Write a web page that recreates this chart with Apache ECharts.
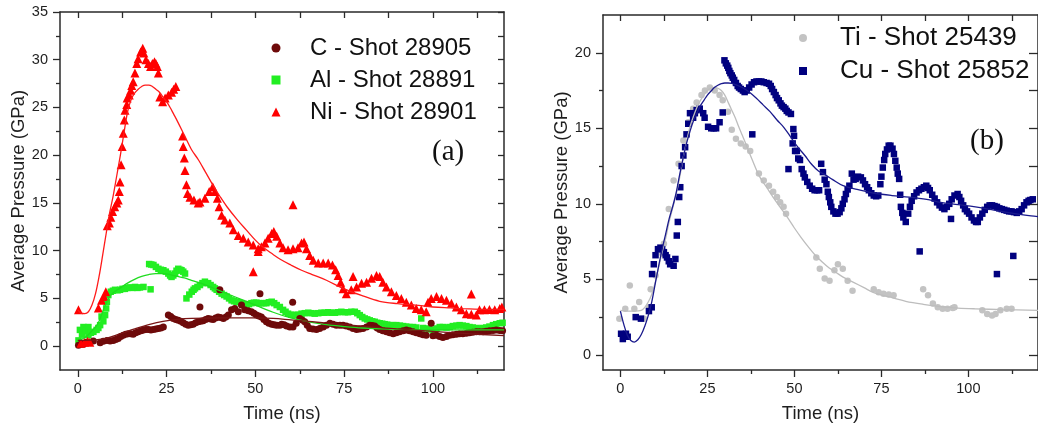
<!DOCTYPE html>
<html><head><meta charset="utf-8">
<script src="https://cdn.jsdelivr.net/npm/echarts@6/dist/echarts.min.js"></script>
<style>html,body{margin:0;padding:0;background:#fff;overflow:hidden}#c{width:1038px;height:432px}</style>
</head><body><div id="c"></div>
<script>
// ---------- Panel (a) ----------
const cName = 'C - Shot 28905';
const alName = 'Al - Shot 28891';
const niName = 'Ni - Shot 28901';
const cData = [[0.2,0.1],[0.9,0.2],[1.6,0.2],[2.5,0.4],[4.4,0.55],[6.3,0.35],[7.2,0.5],[8.2,0.6],[9.1,0.55],[10.0,0.6],[10.7,0.7],[11.4,0.8],[12.1,1.0],[12.8,1.15],[13.5,1.25],[14.2,1.3],[14.9,1.3],[15.6,1.25],[16.3,1.4],[17.0,1.5],[17.8,1.6],[18.5,1.7],[19.2,1.75],[19.9,1.75],[20.6,1.7],[21.3,1.75],[22.0,1.8],[22.7,1.85],[23.4,1.9],[24.1,2.0],[25.5,3.25],[26.2,3.1],[26.9,2.9],[27.6,2.8],[28.3,2.7],[29.0,2.6],[29.7,2.45],[30.4,2.3],[31.1,2.2],[31.8,2.25],[32.5,2.3],[33.2,2.45],[33.9,2.55],[34.6,2.6],[35.3,2.65],[36.0,2.8],[36.7,2.9],[37.4,2.85],[38.1,2.8],[38.8,2.95],[39.5,3.05],[40.2,3.0],[41.0,2.9],[41.7,3.05],[42.4,3.25],[43.3,3.8],[44.2,3.95],[45.2,3.6],[46.1,4.3],[47.0,3.8],[48.0,3.7],[48.9,3.6],[49.6,3.45],[50.3,3.25],[51.0,3.15],[51.7,3.05],[52.4,2.8],[53.1,2.55],[53.8,2.4],[54.6,2.3],[55.3,2.25],[56.0,2.2],[56.9,2.2],[57.4,2.3],[58.1,2.25],[58.8,2.1],[59.7,2.0],[60.6,2.0],[61.5,2.4],[62.5,2.9],[63.2,2.75],[63.9,2.55],[64.6,2.2],[65.3,1.85],[66.2,1.8],[67.2,1.75],[68.1,1.85],[69.1,2.0],[70.0,2.2],[71.0,2.4],[71.9,2.3],[72.8,2.2],[73.8,2.2],[74.7,2.2],[75.6,2.1],[76.6,2.0],[77.5,1.85],[78.5,1.75],[79.4,1.8],[80.3,1.85],[81.3,2.0],[82.2,2.2],[82.9,2.15],[83.6,2.1],[84.3,1.9],[85.0,1.75],[85.9,1.6],[86.9,1.5],[87.8,1.4],[88.8,1.3],[89.7,1.4],[90.6,1.5],[91.6,1.6],[92.5,1.7],[93.4,1.6],[94.4,1.5],[95.3,1.4],[96.3,1.3],[97.2,1.2],[98.1,1.15],[99.5,2.4],[100.0,1.1],[101.0,1.15],[101.9,1.0],[102.8,0.9],[103.8,1.0],[104.7,1.15],[105.6,1.2],[106.6,1.25],[107.5,1.3],[108.4,1.3],[109.4,1.35],[110.3,1.4],[111.2,1.45],[112.2,1.5],[113.1,1.5],[114.1,1.5],[115.0,1.55],[115.9,1.6],[116.9,1.65],[117.8,1.7],[118.8,1.65],[119.6,1.6],[34.4,4.1],[40.0,5.9],[51.3,5.5],[60.5,4.6]];
const alData = [[0.2,0.6],[0.6,1.7],[1.2,1.2],[1.6,2.0],[2.2,1.6],[3.0,1.15],[3.0,2.0],[3.7,1.4],[4.4,1.5],[5.3,1.7],[5.8,1.9],[6.3,2.2],[6.7,3.1],[7.2,2.6],[7.7,3.25],[8.0,3.95],[8.2,4.65],[8.6,5.35],[9.3,5.7],[9.9,5.8],[10.5,5.9],[11.2,5.85],[11.9,5.9],[12.6,6.0],[13.3,6.0],[14.0,6.1],[14.7,6.15],[15.4,6.1],[16.1,6.2],[16.8,6.1],[17.5,6.15],[18.5,6.2],[20.5,5.95],[20.1,8.6],[20.7,8.55],[21.3,8.5],[22.0,8.3],[22.7,8.1],[23.4,8.0],[24.1,7.95],[24.8,7.8],[25.5,7.6],[26.0,7.4],[26.4,7.25],[26.9,7.4],[27.4,7.6],[27.8,7.9],[28.3,8.1],[28.8,8.0],[29.2,7.95],[29.7,7.8],[30.2,7.6],[30.6,5.0],[31.4,5.4],[32.1,5.7],[32.6,5.9],[33.0,6.05],[33.7,6.2],[34.4,6.4],[35.1,6.6],[35.8,6.75],[36.7,6.6],[37.4,6.4],[38.1,6.2],[38.6,6.05],[39.1,5.9],[39.8,5.7],[40.5,5.5],[41.2,5.35],[41.9,5.2],[42.6,5.0],[43.3,4.8],[44.0,4.7],[44.7,4.65],[45.4,4.6],[46.1,4.5],[46.8,4.4],[47.5,4.35],[48.2,4.4],[48.9,4.5],[49.6,4.55],[50.3,4.55],[51.0,4.5],[51.7,4.5],[52.4,4.5],[53.1,4.5],[53.8,4.6],[54.6,4.65],[55.3,4.5],[56.0,4.3],[56.9,4.1],[57.8,3.8],[58.5,3.6],[59.2,3.4],[60.1,3.3],[61.1,3.25],[62.0,3.3],[63.0,3.4],[63.9,3.45],[64.9,3.5],[65.8,3.45],[66.7,3.4],[67.7,3.45],[68.6,3.5],[69.5,3.5],[70.5,3.55],[71.4,3.5],[72.4,3.5],[73.3,3.55],[74.2,3.6],[75.2,3.55],[76.1,3.55],[77.0,3.6],[78.0,3.6],[78.7,3.45],[79.4,3.25],[80.1,3.05],[80.8,2.9],[81.5,2.8],[82.2,2.7],[82.9,2.6],[83.6,2.55],[84.3,2.45],[85.0,2.4],[85.7,2.35],[86.4,2.3],[87.1,2.25],[87.8,2.2],[88.8,2.2],[89.7,2.2],[90.7,2.15],[91.6,2.1],[92.5,2.05],[93.4,2.0],[94.4,2.0],[95.3,1.95],[96.7,2.9],[97.2,1.9],[98.1,1.85],[99.0,1.75],[100.0,1.7],[101.0,1.85],[101.9,2.0],[102.8,2.0],[103.8,1.95],[104.7,2.0],[105.6,2.1],[106.6,2.15],[107.5,2.2],[108.4,2.15],[109.4,2.1],[110.3,2.0],[111.2,1.95],[112.2,1.9],[113.1,1.85],[114.0,1.9],[115.0,1.95],[115.9,2.05],[116.9,2.2],[117.8,2.3],[118.8,2.4],[119.6,2.45]];
const niData = [[0.2,3.8],[0.9,0.3],[1.9,0.4],[2.8,0.5],[3.4,0.4],[5.8,4.0],[6.7,4.8],[7.4,5.2],[7.9,5.7],[8.3,12.6],[8.9,12.9],[9.3,13.5],[9.8,14.1],[10.4,14.6],[11.0,15.0],[11.4,15.3],[11.7,16.2],[11.9,17.2],[12.2,19.0],[12.5,20.9],[12.8,22.3],[13.1,23.7],[13.3,24.7],[13.8,25.3],[13.9,26.0],[14.5,26.3],[14.9,26.8],[15.2,27.3],[15.6,27.7],[16.1,28.6],[16.6,29.6],[17.0,30.1],[17.7,30.8],[18.3,31.2],[18.6,30.7],[19.2,30.0],[19.9,29.6],[20.5,29.3],[21.0,29.6],[21.6,29.8],[22.0,29.6],[22.4,29.3],[22.7,28.6],[23.1,26.1],[23.9,25.6],[24.6,26.0],[25.5,26.3],[26.4,26.6],[27.0,26.9],[27.6,27.2],[29.5,22.0],[29.7,20.9],[30.0,19.7],[30.2,18.4],[30.6,16.9],[30.9,16.0],[31.6,15.6],[32.7,15.3],[33.9,15.0],[34.4,15.1],[35.8,15.5],[37.0,16.2],[38.0,16.7],[38.6,16.2],[39.3,15.5],[39.8,14.6],[40.5,13.7],[41.4,13.2],[42.8,12.9],[43.8,12.2],[45.2,11.6],[46.6,11.3],[48.0,10.9],[49.4,10.6],[50.8,10.2],[51.7,10.4],[52.7,10.8],[53.6,11.3],[54.6,11.8],[55.2,12.0],[56.0,11.5],[56.9,10.8],[57.8,10.3],[59.2,10.1],[60.6,10.2],[62.0,10.3],[63.0,10.8],[63.7,10.9],[64.4,10.2],[65.3,9.5],[66.3,9.0],[67.7,8.7],[69.1,8.7],[70.5,8.7],[71.7,8.5],[72.6,8.0],[73.3,7.4],[74.0,6.7],[74.7,6.0],[75.6,5.5],[77.0,5.9],[78.5,6.2],[79.9,6.6],[81.3,6.7],[82.7,7.1],[84.1,7.4],[85.0,7.3],[85.9,6.7],[86.9,6.2],[88.3,5.7],[89.7,5.3],[91.1,5.0],[92.5,4.6],[93.9,4.3],[95.3,3.95],[96.7,3.8],[98.1,3.6],[98.6,4.6],[99.5,5.0],[101.0,5.2],[102.4,5.0],[103.8,4.8],[105.2,4.5],[106.6,4.1],[108.0,3.8],[109.4,3.4],[110.8,3.35],[112.2,3.25],[113.1,3.8],[114.5,3.8],[115.9,3.85],[117.4,3.8],[118.8,3.95],[119.4,4.1],[49.4,7.8],[50.8,9.9],[60.6,14.8],[77.5,7.3],[110.8,5.45]];
const cFit = [[0,0.6],[5,0.65],[8,0.8],[12,1.3],[16,1.8],[20,2.25],[24,2.6],[28,2.8],[32,2.9],[40,2.95],[50,2.95],[55,2.9],[60,2.75],[65,2.6],[70,2.4],[80,2.1],[90,1.8],[100,1.55],[110,1.3],[120,1.1]];
const alFit = [[0,0.6],[1,0.7],[2,0.9],[3,1.2],[4,1.6],[5,2.0],[6,2.6],[7,3.6],[8,4.5],[9,5.2],[10,5.6],[12,6.1],[14,6.6],[16,7.0],[18,7.3],[20,7.5],[22,7.6],[24,7.6],[26,7.5],[28,7.3],[30,7.15],[32,6.9],[35,6.55],[38,6.1],[42,5.5],[46,4.9],[50,4.3],[55,3.55],[60,2.95],[65,2.55],[70,2.25],[75,2.05],[80,1.9],[90,1.75],[100,1.7],[110,1.7],[120,1.7]];
const niFit = [[0,3.8],[1,3.45],[2,3.4],[3,3.6],[4,4.3],[5,5.5],[6,7.3],[7,9.5],[8,11.8],[9,14.0],[10,15.8],[11,17.9],[12,20.0],[13,22.3],[14,24.5],[15,25.8],[16,26.5],[17,26.9],[18,27.2],[19,27.35],[20,27.35],[21,27.2],[22,26.9],[23,26.6],[24,26.1],[25,25.6],[26,25.0],[27,24.3],[28,23.6],[30,22.1],[32,20.6],[34,19.5],[36,18.2],[38,16.9],[40,15.7],[42,14.6],[45,13.2],[47.5,12.15],[50,11.1],[52,10.4],[55,9.6],[57,9.1],[60,8.5],[63,7.95],[66,7.5],[70,6.9],[75,6.0],[80,5.3],[85,4.7],[90,4.45],[95,4.3],[100,4.1],[105,4.0],[110,3.9],[115,3.85],[120,3.85]];

// ---------- Panel (b) ----------
const tiName = 'Ti - Shot 25439';
const cuName = 'Cu - Shot 25852';
const tiData = [[-0.3,2.4],[1.4,3.05],[2.7,4.6],[4.0,3.05],[5.4,3.5],[6.8,2.4],[8.2,3.15],[8.7,4.35],[10.1,5.25],[12.0,6.7],[12.5,7.35],[13.9,9.65],[15.3,11.55],[16.7,12.65],[18.1,14.2],[19.5,15.4],[20.9,16.3],[21.9,16.7],[23.3,17.2],[24.3,17.5],[25.7,17.7],[27.1,17.5],[28.5,17.2],[29.4,16.85],[30.9,16.1],[32.0,14.9],[33.2,14.3],[34.6,14.0],[36.0,13.8],[37.3,13.5],[39.8,12.0],[41.2,11.55],[42.7,11.2],[43.9,10.8],[45.0,10.45],[45.9,10.1],[46.9,9.8],[47.6,9.35],[56.3,6.45],[57.3,5.7],[58.7,5.05],[60.1,4.9],[61.5,5.6],[62.5,6.0],[63.9,5.7],[65.3,4.9],[66.7,4.25],[72.8,4.35],[74.2,4.15],[75.6,4.05],[77.1,4.0],[78.5,3.95],[87.0,4.35],[88.4,3.95],[89.8,3.4],[91.2,3.15],[92.6,3.05],[94.0,3.05],[95.5,3.1],[96.0,3.15],[104.0,2.95],[105.4,2.7],[106.8,2.6],[107.8,2.7],[109.2,2.95],[111.0,3.05],[112.4,3.05]];
const cuData = [[0.2,1.4],[0.7,1.05],[1.1,1.2],[1.6,1.4],[2.1,1.2],[4.4,2.5],[5.9,2.4],[8.2,2.9],[9.0,3.15],[9.1,5.35],[9.6,6.0],[10.1,6.6],[10.8,7.0],[11.5,7.1],[12.0,7.0],[12.5,6.8],[13.0,6.6],[13.4,6.45],[13.9,6.2],[14.3,6.0],[15.3,5.9],[15.8,6.35],[16.2,7.9],[16.5,8.8],[16.9,10.45],[17.2,11.1],[17.6,12.5],[18.1,13.2],[18.6,13.75],[19.0,14.6],[19.5,15.3],[20.0,16.0],[20.9,15.7],[21.4,16.0],[21.9,16.2],[22.8,16.3],[23.8,16.0],[24.2,15.7],[25.2,15.1],[26.1,15.0],[26.8,15.0],[27.5,15.0],[28.5,15.4],[29.4,16.05],[29.9,19.5],[30.3,19.3],[30.7,19.15],[31.0,19.0],[31.3,18.8],[31.6,18.65],[32.0,18.5],[32.3,18.35],[32.7,18.2],[33.2,18.0],[33.7,17.8],[34.1,17.7],[34.6,17.6],[35.2,17.5],[35.7,17.4],[36.3,17.5],[37.0,17.7],[37.7,17.9],[38.4,18.05],[39.1,18.1],[39.8,18.1],[40.5,18.1],[41.2,18.05],[42.0,18.0],[42.7,17.95],[43.2,17.8],[43.6,17.6],[44.1,17.4],[44.6,17.2],[45.0,17.0],[45.5,16.85],[46.0,16.65],[46.4,16.5],[46.9,16.4],[47.4,16.3],[47.8,16.15],[48.3,16.05],[49.0,15.95],[49.7,14.95],[49.9,14.5],[49.5,14.0],[50.2,13.5],[50.7,13.5],[51.1,13.0],[51.6,12.9],[52.1,12.3],[52.6,12.0],[53.0,11.75],[53.7,11.45],[54.4,11.2],[55.1,11.0],[55.8,10.9],[56.5,10.9],[57.1,10.9],[57.7,12.65],[58.2,12.1],[58.7,11.6],[59.2,11.3],[59.6,10.8],[59.9,10.45],[60.3,10.1],[60.6,9.8],[61.2,9.5],[61.8,9.35],[62.4,9.35],[63.0,9.45],[63.5,9.7],[63.9,10.0],[64.4,10.3],[64.8,10.65],[65.3,10.95],[65.8,11.2],[66.5,12.0],[67.0,11.6],[67.6,11.65],[68.3,11.8],[69.1,11.75],[69.7,11.55],[70.3,11.3],[70.9,11.1],[71.4,10.9],[72.1,10.7],[72.8,10.55],[73.5,10.5],[74.1,10.55],[74.7,11.3],[75.0,11.8],[75.4,12.4],[75.8,12.9],[76.1,13.3],[76.6,13.6],[77.1,13.85],[77.6,13.85],[78.2,13.65],[78.6,13.3],[79.0,12.85],[79.4,12.4],[79.7,12.0],[80.1,11.65],[80.4,10.6],[80.6,9.8],[81.0,9.4],[81.3,9.1],[82.0,8.8],[82.7,9.35],[83.2,9.8],[83.7,10.2],[84.4,10.5],[85.1,10.75],[85.8,10.9],[86.5,11.0],[87.2,11.1],[87.9,11.2],[88.4,11.05],[88.9,10.9],[89.6,10.6],[90.3,10.35],[91.0,10.1],[91.7,9.9],[92.4,9.75],[93.1,9.65],[93.8,9.8],[94.5,10.0],[95.2,10.3],[96.0,10.55],[96.9,10.65],[97.4,10.45],[97.9,10.2],[98.5,9.9],[99.0,9.65],[99.6,9.5],[100.2,9.35],[100.9,9.1],[101.6,8.9],[102.2,8.8],[102.7,8.8],[103.3,9.1],[104.0,9.35],[104.7,9.6],[105.4,9.8],[106.1,9.9],[106.8,9.9],[107.5,9.85],[108.2,9.8],[108.9,9.7],[109.6,9.65],[110.3,9.6],[111.0,9.55],[111.7,9.5],[112.4,9.5],[113.1,9.45],[113.9,9.4],[114.6,9.5],[115.3,9.65],[116.0,9.9],[116.7,10.1],[117.3,10.2],[117.8,10.25],[118.5,10.3],[37.9,14.6],[48.3,12.3],[86.0,6.85],[95.0,9.0],[108.2,5.35],[112.9,6.55]];
const tiFit = [[0,2.95],[2,2.9],[4,2.9],[6,2.95],[7,3.15],[8,3.5],[9,4.0],[10,4.8],[11,5.8],[12,6.8],[13,7.7],[14,8.8],[15,9.7],[16,10.6],[17,11.7],[18,13.0],[19,14.1],[20,15.1],[21,15.8],[22,16.4],[23,16.85],[24,17.2],[25,17.5],[26,17.65],[27,17.7],[28,17.65],[29,17.5],[30,17.2],[31,16.7],[32,16.2],[33,15.7],[34,15.1],[35,14.55],[36,14.0],[38,12.85],[40,11.8],[42,11.1],[44,10.4],[46,9.75],[48,9.1],[50,8.4],[52,7.75],[54,7.15],[56,6.6],[58,6.15],[60,5.75],[62,5.45],[64,5.15],[67,4.8],[70,4.45],[73,4.1],[77,3.85],[82,3.55],[87,3.35],[92,3.2],[97,3.1],[102,3.05],[110,3.0],[120,2.95]];
const cuFit = [[0,2.9],[1,2.0],[2,1.3],[3,0.95],[4,0.85],[5,1.0],[6,1.35],[7,1.9],[8,2.6],[9,3.5],[10,4.7],[11,5.9],[12,7.0],[13,8.0],[14,9.0],[15,9.8],[16,10.7],[17,11.9],[18,13.0],[19,14.0],[20,14.8],[21,15.5],[22,16.0],[23,16.5],[24,16.85],[25,17.2],[26,17.45],[27,17.7],[28,17.85],[29,17.95],[30,18.0],[31,18.0],[32,17.98],[33,17.9],[35,17.7],[37,17.4],[39,17.0],[41,16.55],[43,16.1],[45,15.55],[47,15.05],[49,14.4],[51,13.75],[53,13.2],[55,12.6],[57,12.15],[59,11.9],[61,11.6],[64,11.2],[68,10.95],[73,10.7],[78,10.55],[83,10.45],[88,10.3],[92,10.1],[97,9.95],[102,9.8],[107,9.6],[112,9.4],[118,9.2],[120,9.15]];

// ---------- Ticks ----------
const xMajor = [0,25,50,75,100];
const xMinor = [12.5,37.5,62.5,87.5,112.5];
const yMajorA = [0,5,10,15,20,25,30,35];
const yMinorA = [2.5,7.5,12.5,17.5,22.5,27.5,32.5];
const yMajorB = [0,5,10,15,20];
const yMinorB = [2.5,7.5,12.5,17.5];
const xTitle = 'Time (ns)';
const yTitle = 'Average Pressure (GPa)';

const FONT = '"Liberation Sans", Arial, Helvetica, sans-serif';
const AX = '#2a2a2a';
const lineSt = {color: AX, width: 1.5};
const tickSt = {color: AX, width: 1.3};

function axisSet(grid, min, max, kind, majors, minors, isX) {
  const base = {type: 'value', gridIndex: grid, min: min, max: max, splitLine: {show: false}};
  if (kind === 'main') {
    return Object.assign(base, {
      position: isX ? 'bottom' : 'left',
      axisLine: {show: true, onZero: false, lineStyle: lineSt},
      axisTick: {show: true, inside: false, length: 7, customValues: majors, lineStyle: tickSt},
      axisLabel: {show: true, customValues: majors, margin: isX ? 11 : 12, color: '#1e1e1e', fontSize: 14.5, fontFamily: FONT},
      name: isX ? xTitle : yTitle, nameLocation: 'middle', nameGap: isX ? 34 : 32,
      nameTextStyle: {fontSize: 18.5, color: '#1e1e1e', fontFamily: FONT}
    });
  }
  if (kind === 'minor') {
    return Object.assign(base, {
      position: isX ? 'bottom' : 'left',
      axisLine: {show: false, onZero: false},
      axisTick: {show: true, inside: false, length: 4, customValues: minors, lineStyle: tickSt},
      axisLabel: {show: false}
    });
  }
  return Object.assign(base, {
    position: isX ? 'top' : 'right',
    axisLine: {show: true, onZero: false, lineStyle: lineSt},
    axisTick: {show: true, inside: true, length: kind === 'farB' ? 9 : 6, customValues: majors.concat(minors), lineStyle: tickSt},
    axisLabel: {show: false}
  });
}

function pts(name, data, xi, yi, symbol, size, color, z) {
  return {name: name, type: 'scatter', data: data, xAxisIndex: xi, yAxisIndex: yi,
    symbol: symbol, symbolSize: size, itemStyle: {color: color, opacity: 1}, z: z, silent: true};
}
function fit(data, xi, yi, color, z) {
  return {name: 'fit', type: 'line', data: data, xAxisIndex: xi, yAxisIndex: yi, smooth: 0.35,
    showSymbol: false, symbol: 'none', lineStyle: {color: color, width: 1.3}, z: z, silent: true};
}

const option = {
  backgroundColor: '#ffffff',
  animation: false,
  grid: [
    {left: 60, top: 12, width: 444, height: 358},
    {left: 603, top: 15, width: 442, height: 355}
  ],
  xAxis: [
    axisSet(0, -5, 120, 'main', xMajor, xMinor, true),
    axisSet(0, -5, 120, 'minor', xMajor, xMinor, true),
    axisSet(0, -5, 120, 'far', xMajor, xMinor, true),
    axisSet(1, -5, 120, 'main', xMajor, xMinor, true),
    axisSet(1, -5, 120, 'minor', xMajor, xMinor, true),
    axisSet(1, -5, 120, 'far', xMajor, xMinor, true)
  ],
  yAxis: [
    axisSet(0, -2.5, 35, 'main', yMajorA, yMinorA, false),
    axisSet(0, -2.5, 35, 'minor', yMajorA, yMinorA, false),
    axisSet(0, -2.5, 35, 'far', yMajorA, yMinorA, false),
    axisSet(1, -1, 22.5, 'main', yMajorB, yMinorB, false),
    axisSet(1, -1, 22.5, 'minor', yMajorB, yMinorB, false),
    axisSet(1, -1, 22.5, 'farB', yMajorB, yMinorB, false)
  ],
  legend: [
    {data: [cName, alName, niName], orient: 'vertical', left: 271.5, top: 36, padding: 0,
     itemWidth: 9, itemHeight: 9, itemGap: 8, selectedMode: false,
     textStyle: {fontSize: 24, color: '#111', fontFamily: FONT, padding: [0, 0, 0, 24.5]}},
    {data: [tiName, cuName], orient: 'vertical', left: 799, top: 25, padding: 0,
     itemWidth: 8, itemHeight: 8, itemGap: 7, selectedMode: false,
     textStyle: {fontSize: 26, color: '#111', fontFamily: FONT, padding: [0, 0, 0, 28]}}
  ],
  graphic: [
    {type: 'text', x: 432, y: 152, style: {text: '(a)', font: '29px "Liberation Serif", "Times New Roman", serif', fill: '#111', verticalAlign: 'middle'}},
    {type: 'text', x: 970, y: 141, style: {text: '(b)', font: '29px "Liberation Serif", "Times New Roman", serif', fill: '#111', verticalAlign: 'middle'}}
  ],
  series: [
    pts(alName, alData, 0, 0, 'rect', 6.5, '#22ee22', 3),
    pts(cName, cData, 0, 0, 'circle', 7, '#6e0a0a', 4),
    pts(niName, niData, 0, 0, 'triangle', 9, '#ff0000', 5),
    fit(alFit, 0, 0, '#1fdc1f', 6),
    fit(cFit, 0, 0, '#7a1515', 6),
    fit(niFit, 0, 0, '#ff1a1a', 6),
    pts(tiName, tiData, 3, 3, 'circle', 6.5, '#c3c3c3', 3),
    pts(cuName, cuData, 3, 3, 'rect', 6.5, '#00007f', 4),
    fit(tiFit, 3, 3, '#bdbdbd', 6),
    fit(cuFit, 3, 3, '#1a1a8c', 6)
  ]
};
const chart = echarts.init(document.getElementById('c'), null, {renderer: 'canvas'});
chart.setOption(option);
</script>
</body></html>
